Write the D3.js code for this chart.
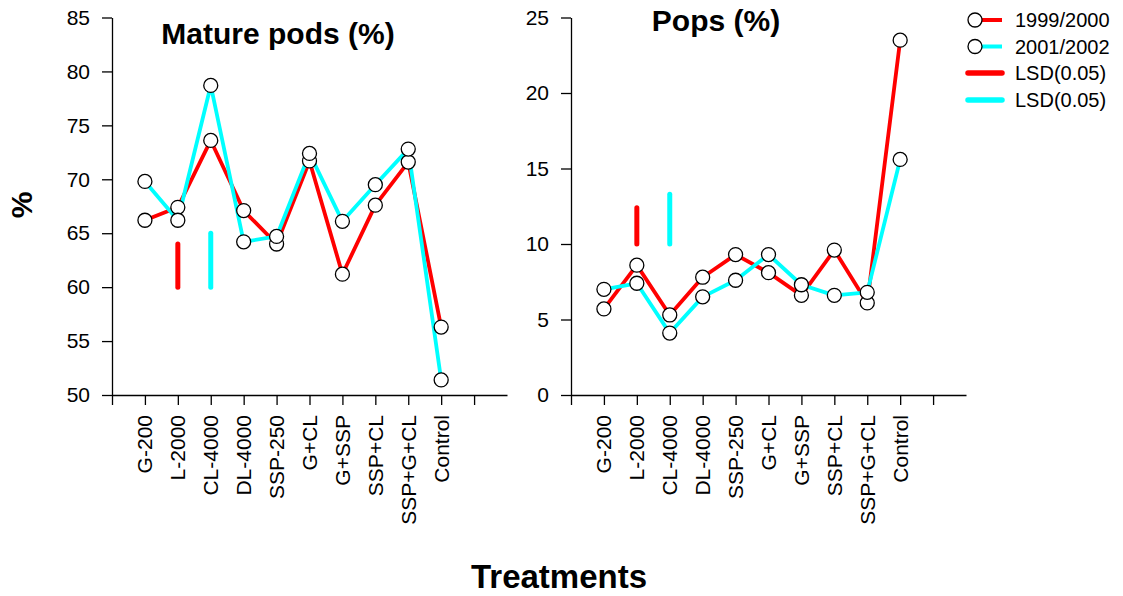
<!DOCTYPE html>
<html>
<head>
<meta charset="utf-8">
<script src="https://cdn.jsdelivr.net/npm/d3@7"></script>
<style>
  body { margin: 0; background: #fff; }
  svg { display: block; font-family: "Liberation Sans", Arial, sans-serif; }
</style>
</head>
<body>
<svg id="chart" width="1123" height="596"></svg>
<script>
// treatments on x axis
const treatments = ["G-200", "L-2000", "CL-4000", "DL-4000", "SSP-250", "G+CL", "G+SSP", "SSP+CL", "SSP+G+CL", "Control"];
const seasons = ["1999/2000", "2001/2002"];

// mature pods (%)
const pods1999 = [66.2, 67.4, 73.6, 67.1, 64.0, 71.7, 61.2, 67.6, 71.6, 56.3];
const pods2001 = [69.8, 66.2, 78.7, 64.2, 64.7, 72.4, 66.1, 69.5, 72.8, 51.4];
const podsLsd = [4.0, 5.0];      // red, cyan
const podsLsdBase = 60;
const podsTicks = [50, 55, 60, 65, 70, 75, 80, 85];

// pops (%)
const pops1999 = [5.7, 8.6, 5.3, 7.8, 9.3, 8.1, 6.6, 9.6, 6.1, 23.5];
const pops2001 = [7.0, 7.4, 4.1, 6.5, 7.6, 9.3, 7.3, 6.6, 6.8, 15.6];
const popsLsd = [2.4, 3.3];
const popsLsdBase = 10;
const popsTicks = [0, 5, 10, 15, 20, 25];

const lsdAt = [1, 2]; // LSD bars drawn at L-2000 and CL-4000
const colors = ["#ff0000", "#00ffff"];

const svg = d3.select("#chart");

function panel(left, right, domain, ticks, s1, s2, lsd, lsdBase, title, titleX, titleY) {
  const top = 17.5, bottom = 395;
  const x = d3.scaleLinear().domain([0, 12]).range([left, right]);
  const y = d3.scaleLinear().domain(domain).range([bottom, top]);
  const g = svg.append("g");

  // axes
  const yAxis = g.append("g").attr("transform", `translate(${left},0)`)
    .call(d3.axisLeft(y).tickValues(ticks).tickSize(10).tickPadding(12).tickSizeOuter(0));
  const xAxis = g.append("g").attr("transform", `translate(0,${bottom})`)
    .call(d3.axisBottom(x).tickValues(d3.range(0, 12)).tickSize(10).tickFormat("").tickSizeOuter(0));
  [yAxis, xAxis].forEach(a => {
    a.select(".domain").attr("stroke", "#000").attr("stroke-width", 1.3);
    a.selectAll(".tick line").attr("stroke", "#000").attr("stroke-width", 1.3);
  });
  yAxis.selectAll(".tick text").attr("font-size", 21).attr("fill", "#000")
    .attr("font-family", "Liberation Sans, Arial, sans-serif");

  // category labels (rotated)
  g.selectAll(".cat").data(treatments).enter().append("text")
    .attr("transform", (d, i) => `translate(${x(i + 1)},${bottom + 20}) rotate(-90)`)
    .attr("text-anchor", "end").attr("dy", "0.35em")
    .attr("font-size", 21).attr("fill", "#000")
    .text(d => d);

  // LSD bars
  lsd.forEach((v, k) => {
    g.append("line")
      .attr("x1", x(lsdAt[k] + 1)).attr("x2", x(lsdAt[k] + 1))
      .attr("y1", y(lsdBase)).attr("y2", y(lsdBase + v))
      .attr("stroke", colors[k]).attr("stroke-width", 5).attr("stroke-linecap", "round");
  });

  const line = d3.line().x((d, i) => x(i + 1)).y(d => y(d));
  [s1, s2].forEach((s, k) => {
    g.append("path").datum(s).attr("d", line)
      .attr("fill", "none").attr("stroke", colors[k]).attr("stroke-width", 3.8)
      .attr("stroke-linejoin", "round");
  });
  [s1, s2].forEach(s => {
    g.selectAll(null).data(s).enter().append("circle")
      .attr("cx", (d, i) => x(i + 1)).attr("cy", d => y(d)).attr("r", 7)
      .attr("fill", "#fff").attr("stroke", "#000").attr("stroke-width", 1.3);
  });

  g.append("text").attr("x", titleX).attr("y", titleY)
    .attr("text-anchor", "middle").attr("font-size", 30).attr("font-weight", "bold")
    .text(title);
}

panel(112, 507, [50, 85], podsTicks, pods1999, pods2001, podsLsd, podsLsdBase, "Mature pods (%)", 278, 44);
panel(571, 966, [0, 25], popsTicks, pops1999, pops2001, popsLsd, popsLsdBase, "Pops (%)", 716, 31);

// axis titles
svg.append("text").attr("transform", "translate(32,205) rotate(-90)")
  .attr("text-anchor", "middle").attr("font-size", 30).attr("font-weight", "bold").text("%");
svg.append("text").attr("x", 559).attr("y", 588)
  .attr("text-anchor", "middle").attr("font-size", 33).attr("font-weight", "bold").text("Treatments");

// legend
const legendItems = [
  { label: seasons[0], color: colors[0], marker: true },
  { label: seasons[1], color: colors[1], marker: true },
  { label: "LSD(0.05)", color: colors[0], marker: false },
  { label: "LSD(0.05)", color: colors[1], marker: false }
];
const legendY = [20, 46.5, 73, 100];
const lg = svg.append("g");
legendItems.forEach((d, i) => {
  const yy = legendY[i];
  lg.append("line").attr("x1", 968).attr("x2", 1002).attr("y1", yy).attr("y2", yy)
    .attr("stroke", d.color).attr("stroke-width", d.marker ? 3.8 : 5.5)
    .attr("stroke-linecap", d.marker ? "butt" : "round");
  if (d.marker) {
    lg.append("circle").attr("cx", 975).attr("cy", yy).attr("r", 7)
      .attr("fill", "#fff").attr("stroke", "#000").attr("stroke-width", 1.3);
  }
  lg.append("text").attr("x", 1015).attr("y", yy).attr("dy", "0.35em")
    .attr("font-size", 20).attr("fill", "#000").text(d.label);
});
</script>
</body>
</html>
